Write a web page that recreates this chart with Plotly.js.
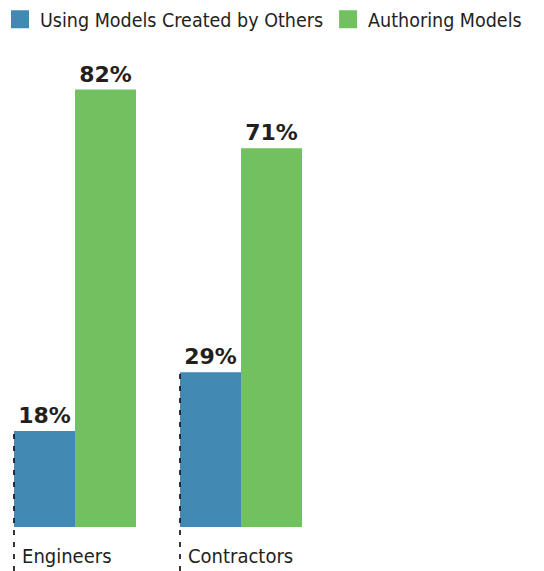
<!DOCTYPE html>
<html>
<head>
<meta charset="utf-8">
<script src="https://cdn.plot.ly/plotly-3.0.1.min.js"></script>
<style>html,body{margin:0;padding:0;background:#fff}#chart{width:544px;height:571px}</style>
</head>
<body>
<div id="chart"></div>
<script>
const categories = ['Engineers', 'Contractors'];
const seriesNames = ['Using Models Created by Others', 'Authoring Models'];
const usingOthers = [18, 29];
const authoring = [82, 71];

const BLUE = '#4289B4';
const GREEN = '#72C160';
const TEXT = '#231F20';
const LABEL_FONT = '"DejaVu Sans Condensed", sans-serif';

const yMax = 87.53;
const bargap = 0.265;
const half = (1 - bargap) / 2;

const barTrace = (name, vals, color) => ({
  type: 'bar', name: name, x: categories, y: vals,
  marker: {color: color, line: {width: 0}},
  texttemplate: '%{y}%', textposition: 'outside', cliponaxis: false,
  textfont: {family: '"DejaVu Sans", sans-serif', size: 22, color: TEXT, weight: 'bold'},
  showlegend: false, hoverinfo: 'skip'
});
const legendTrace = (name, color) => ({
  type: 'scatter', mode: 'markers', name: name, x: [null], y: [null],
  marker: {symbol: 'square', size: 16, color: color, line: {width: 2, color: color}},
  showlegend: true
});

const data = [
  barTrace(seriesNames[0], usingOthers, BLUE),
  barTrace(seriesNames[1], authoring, GREEN),
  legendTrace(seriesNames[0], BLUE),
  legendTrace(seriesNames[1], GREEN)
];

const marginB = 44, marginT = 60, H = 571;
const plotH = H - marginT - marginB;
const shapes = categories.map((c, i) => ({
  type: 'line', xref: 'x', yref: 'paper',
  x0: i - half, x1: i - half,
  y0: -marginB / plotH, y1: usingOthers[i] / yMax,
  line: {color: TEXT, width: 1.8, dash: '5px,7px'},
  layer: 'above'
}));

const layout = {
  width: 544, height: 571,
  margin: {l: 0, r: 0, t: marginT, b: marginB},
  paper_bgcolor: '#fff', plot_bgcolor: '#fff',
  barmode: 'group', bargap: bargap, bargroupgap: 0,
  xaxis: {
    type: 'category', range: [-0.4518, 2.825], showgrid: false, zeroline: false,
    showline: false, ticks: '', fixedrange: true,
    ticklabelposition: 'outside right', ticklabelshift: -53, ticklabelstandoff: 15,
    tickfont: {family: LABEL_FONT, size: 20, color: TEXT}
  },
  yaxis: {range: [0, yMax], visible: false, showgrid: false, zeroline: false, fixedrange: true},
  showlegend: true,
  legend: {
    orientation: 'h', x: 0, xanchor: 'left', xref: 'container',
    y: 1, yanchor: 'top', yref: 'container',
    font: {family: LABEL_FONT, size: 19.5, color: TEXT},
    itemwidth: 30, tracegroupgap: 0
  },
  shapes: shapes
};

Plotly.newPlot('chart', data, layout, {displayModeBar: false, staticPlot: true});
</script>
</body>
</html>
